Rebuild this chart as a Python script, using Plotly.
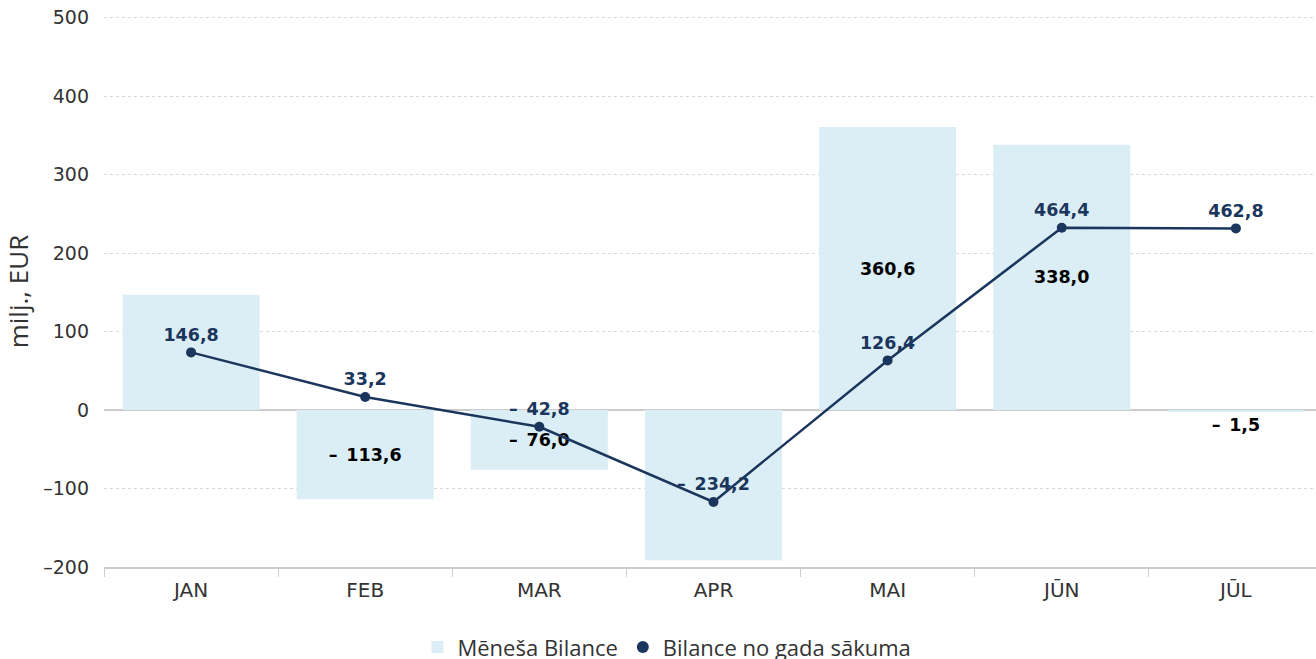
import plotly.graph_objects as go

months = ["JAN", "FEB", "MAR", "APR", "MAI", "JŪN", "JŪL"]
monthly = [146.8, -113.6, -76.0, -191.4, 360.6, 338.0, -1.5]
cumulative = [146.8, 33.2, -42.8, -234.2, 126.4, 464.4, 462.8]
bar_labels_shown = [False, True, True, False, True, True, True]
y_ticks = [-200, -100, 0, 100, 200, 300, 400, 500]


def fmt(v):
    s = f"{abs(v):.1f}".replace(".", ",")
    return ("–\u2002" + s) if v < 0 else s


bar_text = [fmt(v) if show else "" for v, show in zip(monthly, bar_labels_shown)]
bar_pos = ["inside" if abs(v) > 20 else "outside" for v in monthly]
line_text = [fmt(v) for v in cumulative]

line_color = "#1b365d"
bar_color = "#dbeef5"
lab_font = dict(family="DejaVu Sans", size=17.5, color="#000000", weight="bold")

fig = go.Figure()
fig.add_trace(go.Bar(
    x=months, y=monthly, name="Mēneša Bilance",
    marker=dict(color=bar_color, line=dict(width=0)),
    text=bar_text, textposition=bar_pos, insidetextanchor="middle",
    textfont=lab_font, outsidetextfont=lab_font, insidetextfont=lab_font,
    constraintext="none", cliponaxis=False,
    hoverinfo="skip",
))
fig.add_trace(go.Scatter(
    x=months, y=cumulative, name="Bilance no gada sākuma", yaxis="y2",
    mode="lines+markers+text",
    line=dict(color=line_color, width=2.5),
    marker=dict(color=line_color, size=10),
    text=line_text, textposition="top center",
    textfont=dict(family="DejaVu Sans", size=17.5, color=line_color, weight="bold"),
    cliponaxis=False, hoverinfo="skip", showlegend=False,
))
# legend entry for the line series (circle symbol only)
fig.add_trace(go.Scatter(
    x=[None], y=[None], name="Bilance no gada sākuma", yaxis="y2",
    mode="markers", marker=dict(color=line_color, size=14),
    hoverinfo="skip", showlegend=True,
))

fig.update_layout(
    width=1316, height=659,
    margin=dict(l=104, r=0, t=16.4, b=92, autoexpand=False),
    paper_bgcolor="white", plot_bgcolor="white",
    bargap=0.213,
    showlegend=True,
    legend=dict(orientation="h", x=0.4645, xanchor="center", y=-0.1455, yanchor="middle",
                font=dict(family="Open Sans", size=22, color="#333333"),
                itemsizing="constant", traceorder="normal", itemwidth=30,
                tracegroupgap=0),
    xaxis=dict(
        range=[-0.5, 6.46],
        tickfont=dict(family="DejaVu Sans", size=20, color="#333333"),
        showline=True, linecolor="#cccccc", linewidth=1.5,
        ticks="outside", tickson="boundaries", ticklen=8, tickcolor="#cccccc",
        showgrid=False, ticklabelstandoff=4,
    ),
    yaxis=dict(
        range=[-200, 502], tickvals=y_ticks,
        ticktext=[("–" + str(abs(t))) if t < 0 else str(t) for t in y_ticks],
        tickfont=dict(family="DejaVu Sans", size=19, color="#333333"),
        showgrid=True, gridcolor="#d9d9d9", griddash="dot", gridwidth=1,
        zeroline=True, zerolinecolor="#cccccc", zerolinewidth=2,
        ticks="", ticklabelstandoff=14,
        title=dict(text="milj., EUR", font=dict(family="Open Sans", size=26, color="#333333"), standoff=14),
    ),
    yaxis2=dict(
        range=[-400, 1004], overlaying="y", side="right", visible=False,
        showgrid=False, zeroline=False,
    ),
)

fig.write_html("out.html",
               config={"displayModeBar": False},
               post_script="document.body.style.margin='0';document.body.style.overflow='hidden';")
